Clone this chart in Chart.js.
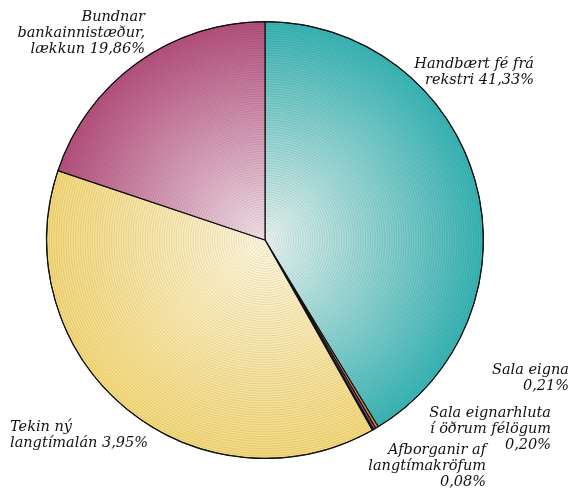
<!DOCTYPE html>
<html>
<head>
<meta charset="utf-8">
<script src="https://cdn.jsdelivr.net/npm/chart.js@4"></script>
<style>
  body { margin: 0; background: #fff; }
  #wrap { width: 573px; height: 490px; }
</style>
</head>
<body>
<div id="wrap"><canvas id="js--chart"></canvas></div>
<script>
/* gögnin, lesin af myndinni (réttsælis frá toppi) */
const labels = [
    "Handbært fé frá rekstri",
    "Sala eigna",
    "Sala eignarhluta í öðrum félögum",
    "Afborganir af langtímakröfum",
    "Tekin ný langtímalán",
    "Bundnar bankainnistæður, lækkun"
];
const values = [41.33, 0.21, 0.20, 0.08, 38.32, 19.86];

// textinn eins og hann stendur á myndinni
const labelLines = [
    ["Handbært fé frá", "rekstri 41,33%"],
    ["Sala eigna", "0,21%"],
    ["Sala eignarhluta", "í öðrum félögum", "0,20%"],
    ["Afborganir af", "langtímakröfum", "0,08%"],
    ["Tekin ný", "langtímalán 3,95%"],
    ["Bundnar", "bankainnistæður,", "lækkun 19,86%"]
];

// litir: miðja -> jaðar
const innerColors = ["#e9f4f0", "#f5b36a", "#a070a8", "#555555", "#fff8de", "#f3e3ea"];
const outerColors = ["#38b5b5", "#e98a3a", "#7d4a8c", "#333333", "#f6da7c", "#b5507e"];

// staðsetning merkja
const labelPos = [
    { x: 534, y: 64, align: "right" },
    { x: 569, y: 370, align: "right" },
    { x: 551, y: 413, align: "right" },
    { x: 486, y: 450, align: "right" },
    { x: 10, y: 427, align: "left" },
    { x: 145, y: 17, align: "right" }
];

function pieGradient(context) {
    const chart = context.chart;
    const area = chart.chartArea;
    if (!area) return outerColors[context.dataIndex];
    const cx = (area.left + area.right) / 2;
    const cy = (area.top + area.bottom) / 2;
    const r = Math.min(area.right - area.left, area.bottom - area.top) / 2;
    const g = chart.ctx.createRadialGradient(cx, cy, 0, cx, cy, r);
    g.addColorStop(0, innerColors[context.dataIndex]);
    g.addColorStop(1, outerColors[context.dataIndex]);
    return g;
}

// hringlaga línur yfir kökunni
const ringPlugin = {
    id: "rings",
    afterDatasetsDraw: function (chart) {
        const arc = chart.getDatasetMeta(0).data[0];
        if (!arc) return;
        const ctx = chart.ctx;
        const r = arc.outerRadius;
        ctx.save();
        ctx.beginPath();
        ctx.arc(arc.x, arc.y, r, 0, Math.PI * 2);
        ctx.clip();
        ctx.strokeStyle = "rgba(0,0,0,0.13)";
        ctx.lineWidth = 0.7;
        for (let i = 2.4; i < r; i += 2.4) {
            ctx.beginPath();
            ctx.arc(arc.x, arc.y, i, 0, Math.PI * 2);
            ctx.stroke();
        }
        ctx.restore();
        // útlína
        ctx.save();
        ctx.beginPath();
        ctx.arc(arc.x, arc.y, r, 0, Math.PI * 2);
        ctx.strokeStyle = "#111";
        ctx.lineWidth = 1;
        ctx.stroke();
        ctx.restore();
    }
};

const textPlugin = {
    id: "texts",
    afterDraw: function (chart) {
        const ctx = chart.ctx;
        ctx.save();
        ctx.fillStyle = "#111";
        ctx.font = "italic 14.5px 'DejaVu Serif'";
        ctx.textBaseline = "middle";
        for (let i = 0; i < labelLines.length; i++) {
            ctx.textAlign = labelPos[i].align;
            for (let j = 0; j < labelLines[i].length; j++) {
                ctx.fillText(labelLines[i][j], labelPos[i].x, labelPos[i].y + j * 16.3);
            }
        }
        ctx.restore();
    }
};

const config = {
    type: "pie",
    data: {
        labels: labels,
        datasets: [{
            data: values,
            backgroundColor: pieGradient,
            borderColor: "#111",
            borderWidth: 1.2,
            borderAlign: "center"
        }]
    },
    options: {
        responsive: true,
        maintainAspectRatio: false,
        animation: false,
        layout: { padding: { left: 46, right: 89, top: 21, bottom: 31 } },
        plugins: {
            legend: { display: false },
            tooltip: { enabled: false }
        }
    },
    plugins: [ringPlugin, textPlugin]
};

new Chart(document.getElementById("js--chart"), config);
</script>
</body>
</html>
